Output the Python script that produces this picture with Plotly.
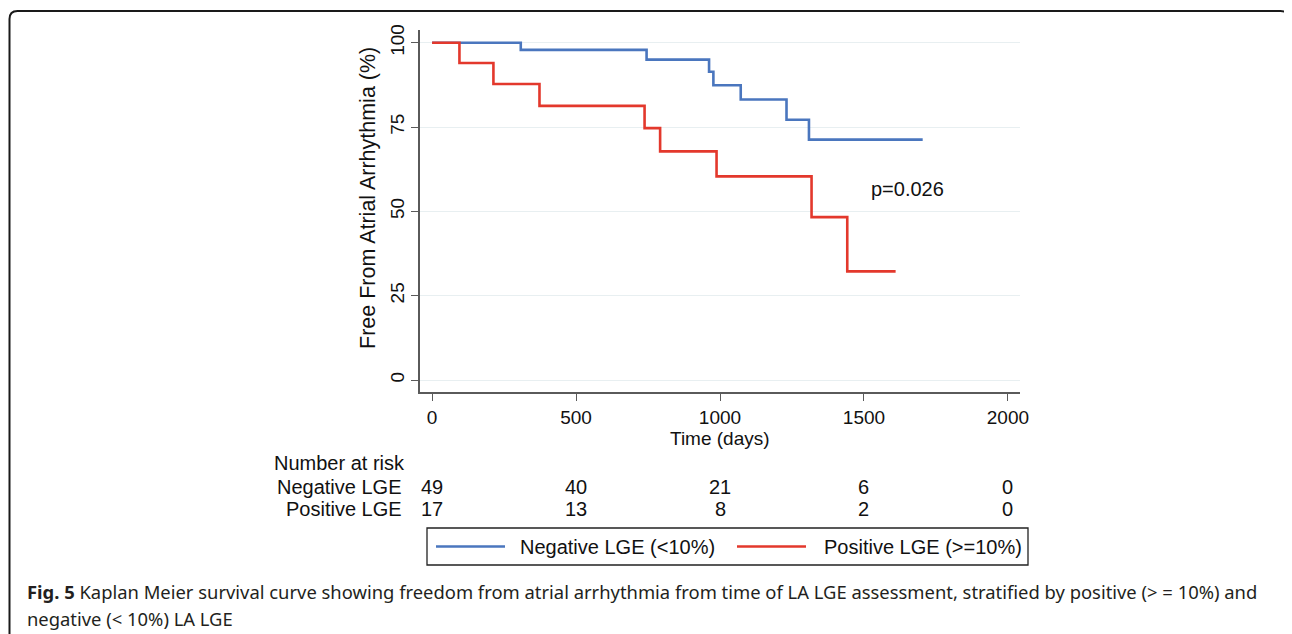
import plotly.graph_objects as go

# ---------------- data ----------------
neg_time = [0, 308, 745, 962, 977, 1072, 1231, 1309, 1704]
neg_surv = [100, 97.9, 95.0, 91.4, 87.4, 83.2, 77.2, 71.3, 71.3]
pos_time = [0, 95, 213, 373, 738, 792, 988, 1318, 1442, 1610]
pos_surv = [100, 94.0, 87.8, 81.3, 74.7, 67.8, 60.4, 48.3, 32.2, 32.2]

risk_times = [0, 500, 1000, 1500, 2000]
risk_neg = [49, 40, 21, 6, 0]
risk_pos = [17, 13, 8, 2, 0]

x_ticks = [0, 500, 1000, 1500, 2000]
y_ticks = [0, 25, 50, 75, 100]

neg_name = "Negative LGE (<10%)"
pos_name = "Positive LGE (>=10%)"
p_text = "p=0.026"
p_pos = (1517, 56.5)

# ---------------- geometry (screen pixels; page body adds an 8px margin) ----------------
OFF = 8
W, H = 1292 - OFF, 634 - OFF
L, R, T, B = 420, 1020, 30, 392          # plot area in screen pixels
PW, PH = R - L, B - T

def px(x):
    return (x - L) / PW

def py(y):
    return 1 - (y - T) / PH

BLUE = "#4A76BE"
RED = "#E3382C"
AX = "#5a5a5a"
FONT = "Liberation Sans, Arial, sans-serif"
TXT = "#111"

fig = go.Figure()
fig.add_trace(go.Scatter(x=neg_time, y=neg_surv, mode="lines", line=dict(color=BLUE, width=2.6, shape="hv"),
                         name=neg_name, showlegend=False))
fig.add_trace(go.Scatter(x=pos_time, y=pos_surv, mode="lines", line=dict(color=RED, width=2.6, shape="hv"),
                         name=pos_name, showlegend=False))

ann = []
shapes = []

# p-value
ann.append(dict(x=p_pos[0], y=p_pos[1], xref="x", yref="y", text=p_text, showarrow=False,
                xanchor="left", yanchor="middle", font=dict(family=FONT, size=20, color=TXT)))

# y title
ann.append(dict(x=px(368), y=py(198), xref="paper", yref="paper", text="Free From Atrial Arrhythmia (%)",
                textangle=-90, showarrow=False, xanchor="center", yanchor="middle",
                font=dict(family=FONT, size=21.5, color=TXT)))
# x title
ann.append(dict(x=1000, y=py(438), xref="x", yref="paper", text="Time (days)", showarrow=False,
                xanchor="center", yanchor="middle", font=dict(family=FONT, size=19, color=TXT)))

# number at risk
ann.append(dict(x=px(272), y=py(463), xref="paper", yref="paper", text="Number at risk", showarrow=False,
                xanchor="left", yanchor="middle", font=dict(family=FONT, size=20, color=TXT)))
for label, vals, yy in [("Negative LGE", risk_neg, 487), ("Positive LGE", risk_pos, 509)]:
    ann.append(dict(x=px(404), y=py(yy), xref="paper", yref="paper", text=label, showarrow=False,
                    xanchor="right", yanchor="middle", font=dict(family=FONT, size=20, color=TXT)))
    for t, v in zip(risk_times, vals):
        ann.append(dict(x=t, y=py(yy), xref="x", yref="paper", text=str(v), showarrow=False,
                        xanchor="center", yanchor="middle", font=dict(family=FONT, size=20, color=TXT)))

# legend (manual)
shapes.append(dict(type="rect", xref="paper", yref="paper", x0=px(427), x1=px(1028), y0=py(528), y1=py(565),
                   line=dict(color="#222", width=1.3), fillcolor="rgba(0,0,0,0)"))
for name, col, x0, x1, tx in [(neg_name, BLUE, 436, 505, 518), (pos_name, RED, 737, 806, 822)]:
    shapes.append(dict(type="line", xref="paper", yref="paper", x0=px(x0), x1=px(x1), y0=py(546.5), y1=py(546.5),
                       line=dict(color=col, width=2.6)))
    ann.append(dict(x=px(tx), y=py(547), xref="paper", yref="paper", text=name, showarrow=False,
                    xanchor="left", yanchor="middle", font=dict(family=FONT, size=20, color=TXT)))

# caption
CAP = "Noto Sans, Open Sans, sans-serif"
ann.append(dict(x=px(25), y=py(591), xref="paper", yref="paper", showarrow=False, xanchor="left", yanchor="middle",
                text="<b>Fig. 5</b> Kaplan Meier survival curve showing freedom from atrial arrhythmia from time of LA LGE assessment, stratified by positive (> = 10%) and",
                font=dict(family=CAP, size=18.4, color="#231F20")))
ann.append(dict(x=px(25), y=py(618), xref="paper", yref="paper", showarrow=False, xanchor="left", yanchor="middle",
                text="negative (< 10%) LA LGE", font=dict(family=CAP, size=18.4, color="#231F20")))

# rounded frame
fl, ft, fr, fb, r = 9.5, 11, 1288.5, 700, 8
path = (f"M {px(fl)},{py(fb)} L {px(fl)},{py(ft + r)} Q {px(fl)},{py(ft)} {px(fl + r)},{py(ft)} "
        f"L {px(fr - r)},{py(ft)} Q {px(fr)},{py(ft)} {px(fr)},{py(ft + r)} L {px(fr)},{py(fb)}")
shapes.append(dict(type="path", xref="paper", yref="paper", path=path, line=dict(color="#1a1a1a", width=2)))

fig.update_layout(
    width=W, height=H,
    margin=dict(l=L - OFF, r=(W + OFF) - R, t=T - OFF, b=(H + OFF) - B, pad=0),
    paper_bgcolor="white", plot_bgcolor="white",
    showlegend=False,
    annotations=ann, shapes=shapes,
    font=dict(family=FONT, color=TXT),
    xaxis=dict(range=[-42, 2042], tickvals=x_ticks, ticks="outside", ticklen=7, tickcolor=AX, tickwidth=1.2,
               showline=True, linecolor=AX, linewidth=1.5, showgrid=False, zeroline=False,
               tickfont=dict(family=FONT, size=19, color=TXT)),
    yaxis=dict(range=[-3.56, 103.8], tickvals=y_ticks, ticks="outside", ticklen=7, tickcolor=AX, tickwidth=1.2,
               showline=True, linecolor=AX, linewidth=1.5, showgrid=True, gridcolor="#E8EFF1", gridwidth=1.2,
               zeroline=False, tickangle=-90, tickfont=dict(family=FONT, size=19, color=TXT)),
)

fig.write_html("out.html")
